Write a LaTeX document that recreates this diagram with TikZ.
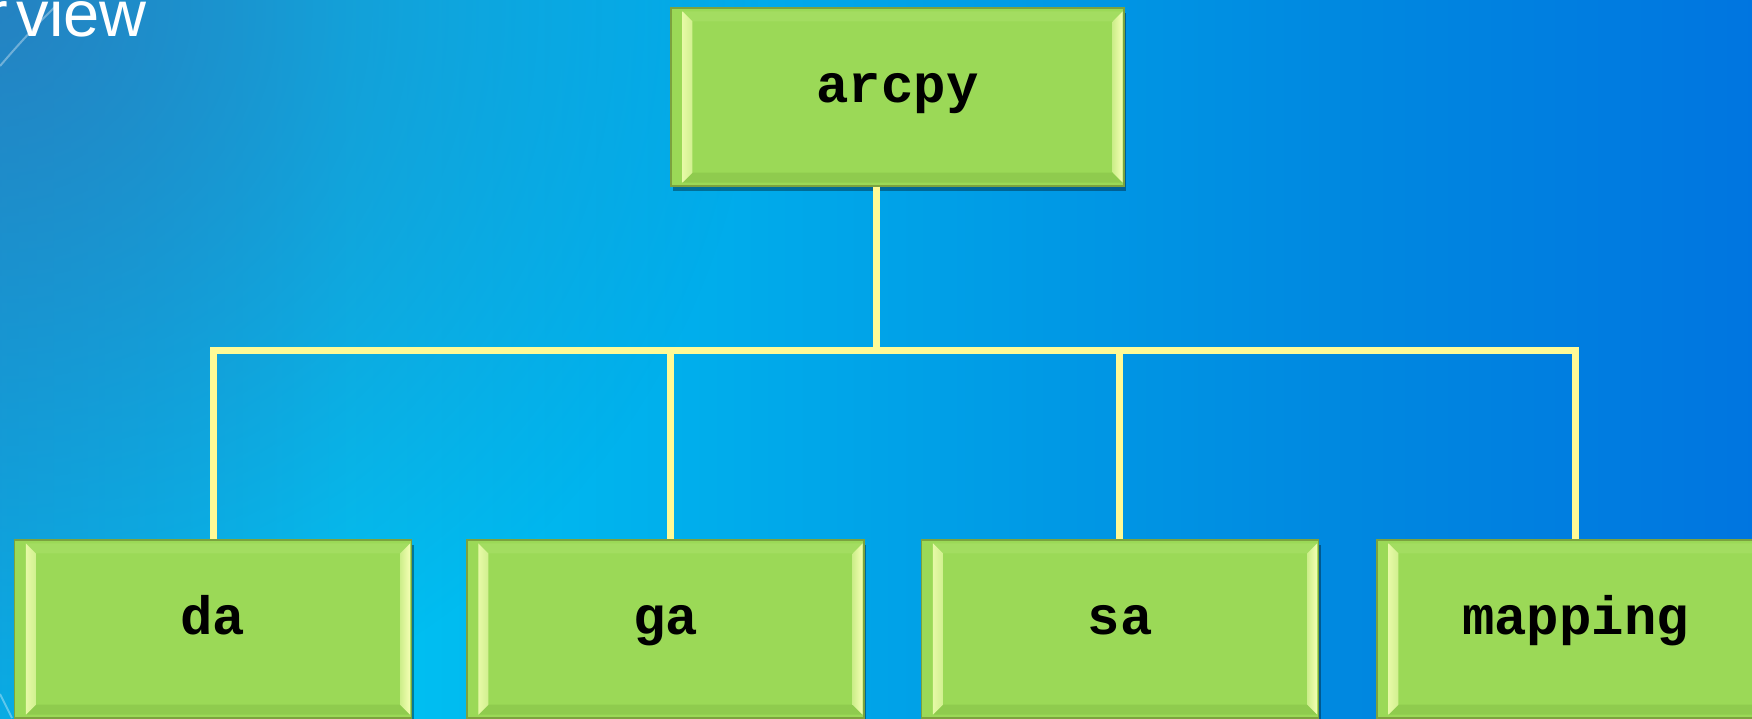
\documentclass[tikz,border=0pt]{standalone}
\usepackage{fontspec}
\setmainfont{Liberation Sans}
\newfontfamily\codefont{Liberation Mono}
\usetikzlibrary{calc,fadings,shadows}

\definecolor{boxgreen}{HTML}{9BD957}
\definecolor{boxedge}{HTML}{7CA23E}
\definecolor{bevellight}{HTML}{F4FFB4}
\definecolor{beveltop}{HTML}{A3DD61}
\definecolor{bevelbottom}{HTML}{8FCB4E}
\definecolor{wire}{HTML}{FFFA96}
\definecolor{cornerblue}{RGB}{40,126,190}

% background sweep, left to right (path spans 25bp..75bp)
\pgfdeclarehorizontalshading{skysweep}{100bp}{%
  rgb(0bp)=(0.03,0.68,0.90);
  rgb(25bp)=(0.03,0.68,0.90);
  rgb(35bp)=(0,0.76,0.95);
  rgb(50bp)=(0,0.64,0.91);
  rgb(62.5bp)=(0,0.54,0.88);
  rgb(75bp)=(0,0.46,0.88);
  rgb(100bp)=(0,0.46,0.88)}

\tikzfading[name=cornerfade, inner color=transparent!10, outer color=transparent!100]

% bevelled face drawn over a box node
\newcommand\bevelface[1]{%
  \fill[beveltop] ($(#1.north west)+(12,4)$) -- ($(#1.north east)+(-2,4)$)
    -- ($(#1.north east)+(-12,14)$) -- ($(#1.north west)+(22,14)$) -- cycle;
  \fill[bevelbottom] ($(#1.south west)+(12,-4)$) -- ($(#1.south east)+(-2,-4)$)
    -- ($(#1.south east)+(-12,-14)$) -- ($(#1.south west)+(22,-14)$) -- cycle;
  \shade[left color=bevellight!85!boxgreen, right color=boxgreen!40!bevellight]
    ($(#1.north west)+(12,4)$) -- ($(#1.north west)+(22,14)$)
    -- ($(#1.south west)+(22,-14)$) -- ($(#1.south west)+(12,-4)$) -- cycle;
  \shade[left color=boxgreen!45!bevellight, right color=bevellight]
    ($(#1.north east)+(-2,4)$) -- ($(#1.north east)+(-12,14)$)
    -- ($(#1.south east)+(-12,-14)$) -- ($(#1.south east)+(-2,-4)$) -- cycle;
}

\tikzset{
  modbox/.style={draw=boxedge, line width=0.6pt, fill=boxgreen,
    rectangle, inner sep=0pt, text height=1ex, text depth=0pt,
    minimum height=89pt, minimum width=198.5pt,
    font=\codefont\bfseries\fontsize{27pt}{30pt}\selectfont,
    drop shadow={shadow xshift=1pt, shadow yshift=-2.5pt, fill=black, opacity=0.35}},
  wireline/.style={draw=wire, line width=3.5pt},
}

\begin{document}
\begin{tikzpicture}[x=0.5pt, y=-0.5pt]
\useasboundingbox (0,0) rectangle (1752,718);
\begin{scope}
  \clip (0,0) rectangle (1752,718);
  % backdrop
  \shade[shading=skysweep] (0,0) rectangle (1752,718);
  \fill[cornerblue, path fading=cornerfade] (0,0) circle (760);
  \draw[white, opacity=0.35, line width=1pt] (0,66) .. controls (18,45) and (36,25) .. (58,4);
  \draw[white, opacity=0.35, line width=1pt] (0,694) .. controls (4,702) and (8,710) .. (12,718);
  % title fragment
  \node[anchor=base east, text=white, inner sep=0pt,
        font=\fontsize{32.5pt}{36pt}\selectfont] (title) at (147,36) {r\kern4pt view};

  % module boxes
  \node[modbox, minimum width=226.5pt] (arcpy) at (897.5,97) {arcpy};
  \node[modbox] (da) at (213,629) {da};
  \node[modbox] (ga) at (665.5,629) {ga};
  \node[modbox] (sa) at (1120,629) {sa};
  \node[modbox] (mapping) at (1575.5,629) {mapping};
  \bevelface{arcpy}
  \bevelface{da}
  \bevelface{ga}
  \bevelface{sa}
  \bevelface{mapping}

  % tree connectors
  \coordinate (hub) at (876,350);
  \coordinate (j1) at (213,350);
  \coordinate (j2) at (670,350);
  \coordinate (j3) at (1119,350);
  \coordinate (j4) at (1575,350);
  \draw[wireline] (arcpy.south -| hub) -- (hub);
  \draw[wireline, line cap=rect] (j1) -- (j4);
  \draw[wireline] (j1) -- (j1 |- da.north);
  \draw[wireline] (j2) -- (j2 |- ga.north);
  \draw[wireline] (j3) -- (j3 |- sa.north);
  \draw[wireline] (j4) -- (j4 |- mapping.north);
\end{scope}
\end{tikzpicture}
\end{document}
